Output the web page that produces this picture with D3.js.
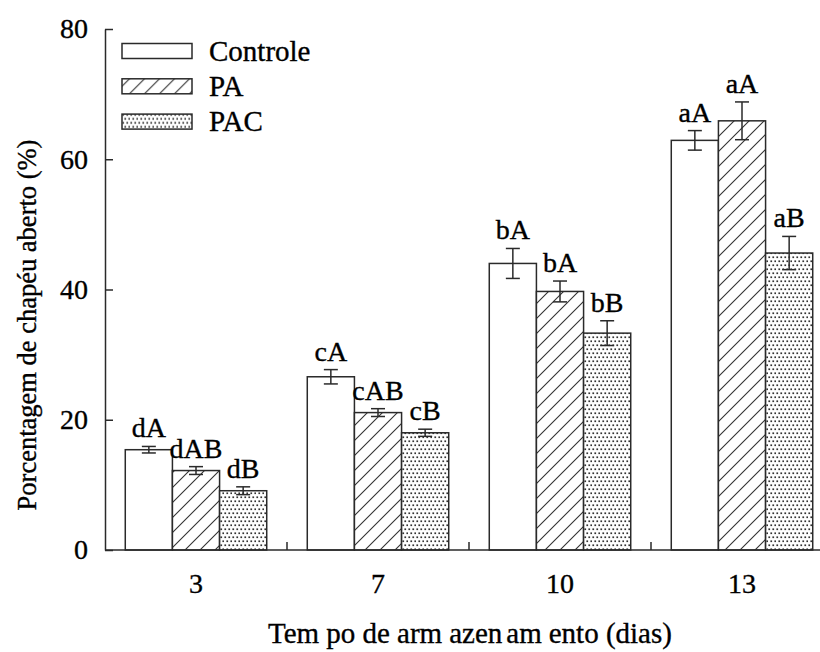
<!DOCTYPE html>
<html>
<head>
<meta charset="utf-8">
<script src="https://cdn.jsdelivr.net/npm/d3@7"></script>
<style>
  html, body { margin: 0; padding: 0; background: #fff; }
  svg { display: block; }
  svg text { stroke: #000; stroke-width: 0.35px; }
</style>
</head>
<body>
<svg id="chart" width="820" height="652"></svg>
<script>
// Storage time (days) on the x axis
const categories = ["3", "7", "10", "13"];
const seriesNames = ["Controle", "PA", "PAC"];

// Percentage of open caps (%) per treatment
const controleValues = [15.4, 26.6, 44.0, 62.9];
const paValues       = [12.2, 21.1, 39.7, 65.9];
const pacValues      = [9.1, 18.0, 33.3, 45.6];

// Standard errors
const controleErrors = [0.5, 1.1, 2.3, 1.5];
const paErrors       = [0.6, 0.6, 1.6, 2.9];
const pacErrors      = [0.6, 0.55, 1.9, 2.55];

// Significance letters
const controleLetters = ["dA", "cA", "bA", "aA"];
const paLetters       = ["dAB", "cAB", "bA", "aA"];
const pacLetters      = ["dB", "cB", "bB", "aB"];

const yTicks = [0, 20, 40, 60, 80];

const seriesValues  = [controleValues, paValues, pacValues];
const seriesErrors  = [controleErrors, paErrors, pacErrors];
const seriesLetters = [controleLetters, paLetters, pacLetters];

const rows = [];
categories.forEach((c, i) => {
  seriesNames.forEach((s, j) => {
    rows.push({ cat: c, series: s, value: seriesValues[j][i],
                err: seriesErrors[j][i], letter: seriesLetters[j][i] });
  });
});

const FONT = "'Liberation Serif', 'Times New Roman', Tinos, 'DejaVu Serif', serif";
const svg = d3.select("#chart").attr("font-family", FONT);
const ink = "#2a2a2a";
const textInk = "#000";

// Fill patterns: plain, diagonal hatch, fine dots
const defs = svg.append("defs");
const hatch = defs.append("pattern")
  .attr("id", "hatch").attr("patternUnits", "userSpaceOnUse")
  .attr("width", 15).attr("height", 15);
hatch.append("rect").attr("width", 15).attr("height", 15).attr("fill", "#fff");
hatch.append("path").attr("d", "M-1,16 L16,-1 M-8,8 L8,-8 M7,23 L23,7")
  .attr("stroke", "#333").attr("stroke-width", 1.1);

const dots = defs.append("pattern")
  .attr("id", "dots").attr("patternUnits", "userSpaceOnUse")
  .attr("width", 8).attr("height", 8);
dots.append("rect").attr("width", 8).attr("height", 8).attr("fill", "#fff");
[[0, 0], [4, 0], [2, 4], [6, 4]].forEach(([cx, cy]) => {
  dots.append("rect").attr("x", cx + 0.4).attr("y", cy + 0.4)
    .attr("width", 1.7).attr("height", 1.7).attr("fill", "#333");
});

const fills = { "Controle": "#fff", "PA": "url(#hatch)", "PAC": "url(#dots)" };

// Scales
const x0 = d3.scaleBand().domain(categories).range([105, 833]).padding(0);
const x1 = d3.scaleBand().domain(seriesNames).range([0, x0.bandwidth()])
  .paddingInner(0).paddingOuter(0.43);
const y = d3.scaleLinear().domain([0, 80]).range([550, 29]);

// Bars
const g = svg.append("g");
g.selectAll("rect.bar").data(rows).join("rect")
  .attr("class", "bar")
  .attr("x", d => x0(d.cat) + x1(d.series))
  .attr("y", d => y(d.value))
  .attr("width", x1.bandwidth())
  .attr("height", d => y(0) - y(d.value))
  .attr("fill", d => fills[d.series])
  .attr("stroke", ink).attr("stroke-width", 1.5);

// Error bars
const capHalf = 7;
const eb = g.selectAll("g.err").data(rows).join("g").attr("class", "err")
  .attr("transform", d => `translate(${x0(d.cat) + x1(d.series) + x1.bandwidth() / 2},0)`);
eb.append("line").attr("x1", 0).attr("x2", 0)
  .attr("y1", d => y(d.value + d.err)).attr("y2", d => y(d.value - d.err))
  .attr("stroke", ink).attr("stroke-width", 1.5);
eb.append("line").attr("x1", -capHalf).attr("x2", capHalf)
  .attr("y1", d => y(d.value + d.err)).attr("y2", d => y(d.value + d.err))
  .attr("stroke", ink).attr("stroke-width", 1.5);
eb.append("line").attr("x1", -capHalf).attr("x2", capHalf)
  .attr("y1", d => y(d.value - d.err)).attr("y2", d => y(d.value - d.err))
  .attr("stroke", ink).attr("stroke-width", 1.5);

// Letters above error bars
g.selectAll("text.letter").data(rows).join("text")
  .attr("class", "letter")
  .attr("x", d => x0(d.cat) + x1(d.series) + x1.bandwidth() / 2)
  .attr("y", d => y(d.value + d.err) - 9)
  .attr("text-anchor", "middle")
  .attr("font-size", 28)
  .attr("fill", textInk)
  .text(d => d.letter);

// Y axis with inward ticks
const yAxis = svg.append("g").attr("transform", "translate(105,0)")
  .call(d3.axisLeft(y).tickValues(yTicks).tickSizeInner(-8).tickSizeOuter(0).tickPadding(17));
yAxis.attr("font-family", FONT);
yAxis.select(".domain").attr("stroke", ink).attr("stroke-width", 1.5);
yAxis.selectAll(".tick line").attr("stroke", ink).attr("stroke-width", 1.5);
yAxis.selectAll(".tick text").attr("font-size", 28).attr("fill", textInk);

// X axis: boundary ticks pointing up, labels centred on groups
const xAxis = svg.append("g").attr("transform", "translate(0,550)");
xAxis.append("line").attr("x1", 105).attr("x2", 833).attr("y1", 0).attr("y2", 0)
  .attr("stroke", ink).attr("stroke-width", 1.5);
xAxis.selectAll("line.bt").data(categories.slice(1)).join("line")
  .attr("class", "bt")
  .attr("x1", d => x0(d)).attr("x2", d => x0(d))
  .attr("y1", 0).attr("y2", -8)
  .attr("stroke", ink).attr("stroke-width", 1.5);
xAxis.selectAll("text.xl").data(categories).join("text")
  .attr("class", "xl")
  .attr("x", d => x0(d) + x0.bandwidth() / 2)
  .attr("y", 43)
  .attr("text-anchor", "middle")
  .attr("font-size", 28)
  .attr("fill", textInk)
  .text(d => d);

// Axis titles (the x title is set with the wide spacing after each "m")
const xTitle = svg.append("text")
  .attr("x", 470).attr("y", 643)
  .attr("text-anchor", "middle")
  .attr("font-size", 29)
  .attr("fill", textInk);
[["Tem", 0], ["po de arm", 7], ["azen", 7], ["am", 4], ["ento (dias)", 7]].forEach(([t, dx]) => {
  xTitle.append("tspan").attr("dx", dx).text(t);
});

svg.append("text")
  .attr("transform", "translate(36,325) rotate(-90)")
  .attr("text-anchor", "middle")
  .attr("font-size", 26.5)
  .attr("fill", textInk)
  .text("Porcentagem de chapéu aberto (%)");

// Legend
const legend = svg.append("g");
const legendRows = legend.selectAll("g").data(seriesNames).join("g")
  .attr("transform", (d, i) => `translate(122,${51 + i * 35.3})`);
legendRows.append("rect")
  .attr("x", 0).attr("y", -7.5).attr("width", 70).attr("height", 15)
  .attr("fill", d => fills[d]).attr("stroke", ink).attr("stroke-width", 1.5);
legendRows.append("text")
  .attr("x", 87).attr("y", 9.5)
  .attr("font-size", 29)
  .attr("fill", textInk)
  .text(d => d);
</script>
</body>
</html>
